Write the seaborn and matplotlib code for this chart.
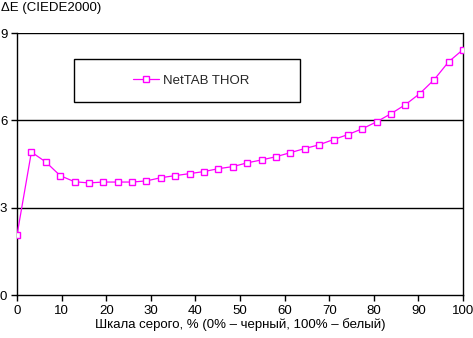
import numpy as np
import pandas as pd
import matplotlib
matplotlib.use("Agg")
import matplotlib.pyplot as plt
from matplotlib.patches import Rectangle
import seaborn as sns

gray_levels = np.linspace(0, 100, 32)
delta_e = [2.06, 4.91, 4.57, 4.10, 3.89, 3.85, 3.88, 3.88, 3.88, 3.92,
           4.03, 4.10, 4.17, 4.24, 4.34, 4.41, 4.54, 4.64, 4.75, 4.89,
           5.03, 5.16, 5.34, 5.51, 5.71, 5.95, 6.23, 6.54, 6.92, 7.40,
           8.01, 8.43]
series_name = "NetTAB THOR"
x_ticks = [0, 10, 20, 30, 40, 50, 60, 70, 80, 90, 100]
y_ticks = [0, 3, 6, 9]

sns.set_theme(style="white")
plt.rcParams['font.family'] = ['Liberation Sans', 'DejaVu Sans']

df = pd.DataFrame({"x": gray_levels, "y": delta_e, "s": series_name})

W, H = 473, 338
fig = plt.figure(figsize=(W/100, H/100), dpi=100)
ax = fig.add_axes([17/W, 43/H, 446/W, 262/H])

mag = "#FF00FF"
sns.lineplot(data=df, x="x", y="y", hue="s", palette=[mag], ax=ax,
             marker="s", markersize=5, markerfacecolor="white",
             markeredgecolor=mag, markeredgewidth=1.0, linewidth=0.9,
             legend=False, zorder=3)

ax.set_xlim(0, 100)
ax.set_ylim(0, 9)
ax.set_xticks(x_ticks)
ax.set_yticks(y_ticks)
ax.set_xticklabels([str(t) for t in x_ticks], fontsize=9.5, color="black")
ax.set_yticklabels([str(t) for t in y_ticks], fontsize=9.5, color="black")
ax.tick_params(axis="both", direction="out", length=4, width=1, color="black",
               bottom=True, left=True, pad=3)

for yv in [3, 6, 9]:
    ax.axhline(yv, color="black", linewidth=1, zorder=1)

for side in ["left", "bottom", "right"]:
    ax.spines[side].set_visible(True)
    ax.spines[side].set_color("black")
    ax.spines[side].set_linewidth(1)
ax.spines["top"].set_visible(False)

ax.set_xlabel("Шкала серого, % (0% – черный, 100% – белый)", fontsize=9.5,
              color="black", labelpad=1)
ax.set_ylabel("")
fig.text(1/W, 1 - 2/H, "ΔE (CIEDE2000)", fontsize=9.5, ha="left", va="top",
         color="black")

# legend box
fig.patches.append(Rectangle((74/W, 1 - 102/H), 226/W, 43/H,
                             transform=fig.transFigure, facecolor="white",
                             edgecolor="black", linewidth=1, zorder=5))
handle = plt.Line2D([], [], color=mag, marker="s", markersize=5,
                    markerfacecolor="white", markeredgecolor=mag, linewidth=0.9)
leg = fig.legend([handle], [series_name], loc="center left",
                 bbox_to_anchor=(133/W, 1 - 80.5/H),
                 fontsize=9.5, frameon=False, handlelength=2.0,
                 handletextpad=0.3, borderpad=0, borderaxespad=0)
leg.set_zorder(6)

fig.savefig("out.png", dpi=100, facecolor="white")
